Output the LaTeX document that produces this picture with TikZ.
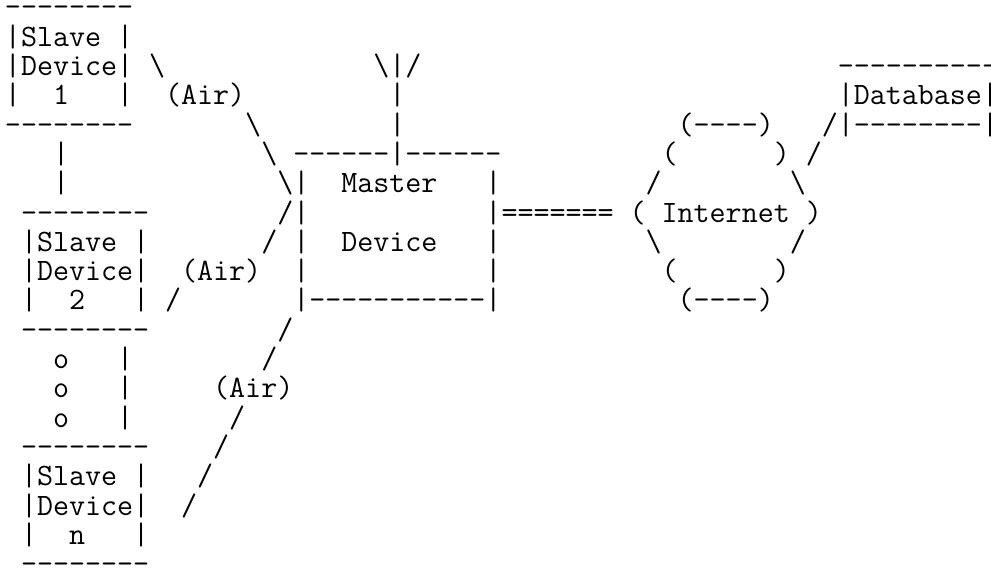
\documentclass[tikz,border=0pt]{standalone}
\usepackage{tikz}

\newcommand{\asciifont}{\ttfamily\fontsize{31.1}{29.3}\selectfont}
\newlength{\cw}
\settowidth{\cw}{\asciifont x}
\newcommand{\gapc}[1]{\hspace*{#1\cw}}
\newcommand{\bsl}{\textbackslash}

\begin{document}
\begin{tikzpicture}[x=1pt, y=1pt, ascii/.style={anchor=base west, inner sep=0pt, outer sep=0pt, font=\asciifont}]
\useasboundingbox[fill=white] (0,0) rectangle (991,-569);

% Slave Device 1, antenna, Database
\node[ascii] (row0) at (5,-17.0) {--------};
\node[ascii] (row1) at (5,-46.3) {|Slave~|};
\node[ascii] (row2) at (5,-75.6) {|Device|~\bsl\gapc{13}\bsl|/\gapc{26}----------};
\node[ascii] (row3) at (5,-104.9) {|~~1~~~|~~(Air)\gapc{9}|\gapc{27}|Database|};
\node[ascii] (row4) at (5,-134.2) {--------\gapc{7}\bsl\gapc{8}|\gapc{17}(----)~~~/|--------|};

% Master Device and Internet cloud
\node[ascii] (row5) at (5,-163.5) {\gapc{3}|\gapc{12}\bsl~------|------\gapc{10}(\gapc{6})~/};
\node[ascii] (row6) at (5,-192.8) {\gapc{3}|\gapc{13}\bsl|~~Master~~~|\gapc{9}/\gapc{8}\bsl};
\node[ascii] (row7) at (5,-222.1) {~--------\gapc{8}/|\gapc{11}|=======~(~Internet~)};
\node[ascii] (row8) at (5,-251.4) {~|Slave~|\gapc{7}/~|~~Device~~~|\gapc{9}\bsl\gapc{8}/};
\node[ascii] (row9) at (5,-280.7) {~|Device|~~(Air)~~|\gapc{11}|\gapc{10}(\gapc{6})};
\node[ascii] (row10) at (5,-310.0) {~|~~2~~~|~/\gapc{7}|-----------|\gapc{11}(----)};
\node[ascii] (row11) at (5,-339.3) {~--------\gapc{8}/};

% dots and Slave Device n
\node[ascii] (row12) at (5,-368.6) {~~~o~~~|\gapc{8}/};
\node[ascii] (row13) at (5,-397.9) {~~~o~~~|\gapc{5}(Air)};
\node[ascii] (row14) at (5,-427.2) {~~~o~~~|\gapc{6}/};
\node[ascii] (row15) at (5,-456.5) {~--------~~~~/};
\node[ascii] (row16) at (5,-485.8) {~|Slave~|~~~/};
\node[ascii] (row17) at (5,-515.1) {~|Device|~~/};
\node[ascii] (row18) at (5,-544.4) {~|~~n~~~|};
\node[ascii] (row19) at (5,-573.7) {~--------};

\end{tikzpicture}
\end{document}
